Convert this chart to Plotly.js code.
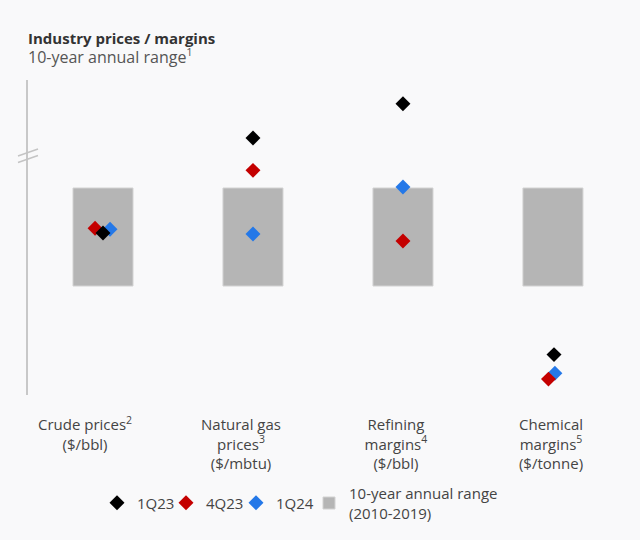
<!DOCTYPE html>
<html>
<head>
<meta charset="utf-8">
<script src="https://cdn.plot.ly/plotly-3.0.1.min.js"></script>
<style>
  html, body { margin: 0; padding: 0; background: #f9f9fa; }
  #chart { width: 640px; height: 540px; }
</style>
</head>
<body>
<div id="chart"></div>
<script>
// Categories (tick labels)
const categories = [
  "Crude prices<sup>2</sup><br>($/bbl)",
  "Natural gas<br>prices<sup>3</sup><br>($/mbtu)",
  "Refining<br>margins<sup>4</sup><br>($/bbl)",
  "Chemical<br>margins<sup>5</sup><br>($/tonne)"
];
const categoryIndex = [0, 1, 2, 3];
// where the category labels sit along the x axis (slightly left of each bar in the original)
const labelPositions = [-0.12, 0.92, 1.953, 2.987];

// Position relative to the 10-year annual range (0 = low end, 1 = high end)
const rangeLow  = [0, 0, 0, 0];
const rangeHigh = [1, 1, 1, 1];

const q1_23 = [0.54, 1.51, 1.86, -0.70];
const q4_23 = [0.59, 1.18, 0.46, -0.95];
const q1_24 = [0.58, 0.53, 1.01, -0.89];

// small horizontal offsets used in the original to avoid full overlap
const off1Q23 = [0.00, 0.00, 0.00, 0.007];
const off4Q23 = [-0.053, 0.00, 0.00, -0.03];
const off1Q24 = [0.047, 0.00, 0.00, 0.013];

const xs = (off) => categoryIndex.map((c, i) => c + off[i]);

const font = "Open Sans, Noto Sans, sans-serif";

const traces = [
  {
    type: "bar",
    name: "10-year annual range<br>(2010-2019)",
    x: categoryIndex,
    y: rangeHigh.map((h, i) => h - rangeLow[i]),
    base: rangeLow,
    width: 0.40,
    marker: { color: "#b5b5b5", line: { color: "#d2d2d2", width: 1 } },
    legend: "legend4",
    hoverinfo: "skip"
  },
  {
    type: "scatter", mode: "markers", name: "1Q24",
    x: xs(off1Q24), y: q1_24,
    marker: { symbol: "diamond", size: 11.5, color: "#2478e8" },
    legend: "legend3"
  },
  {
    type: "scatter", mode: "markers", name: "4Q23",
    x: xs(off4Q23), y: q4_23,
    marker: { symbol: "diamond", size: 11.5, color: "#c40000" },
    legend: "legend2"
  },
  {
    type: "scatter", mode: "markers", name: "1Q23",
    x: xs(off1Q23), y: q1_23,
    marker: { symbol: "diamond", size: 11.5, color: "#000000" },
    legend: "legend"
  }
];

const breakMark = (yc) => ({
  type: "line", xref: "paper", yref: "y",
  xsizemode: "pixel", xanchor: 0, ysizemode: "pixel", yanchor: yc,
  x0: -10, x1: 10, y0: -3.5, y1: 3.5,
  line: { color: "#c4c4c4", width: 1.5 }
});

const legendFont = { size: 15, color: "#444", family: font };
const legendAt = (px) => ({
  orientation: "h",
  xref: "container", yref: "container",
  x: px / 640, xanchor: "left",
  y: (540 - 503) / 540, yanchor: "middle",
  font: legendFont,
  bgcolor: "rgba(0,0,0,0)"
});

const layout = {
  width: 640, height: 540,
  paper_bgcolor: "#f9f9fa",
  plot_bgcolor: "rgba(0,0,0,0)",
  margin: { l: 28, r: 20, t: 80, b: 145 },
  font: { family: font, color: "#444", size: 15 },
  showlegend: true,
  legend: legendAt(97),
  legend2: legendAt(166),
  legend3: legendAt(236),
  legend4: legendAt(309),
  xaxis: {
    range: [-0.5, 3.447],
    tickmode: "array",
    tickvals: labelPositions,
    ticktext: categories,
    ticks: "outside", ticklen: 16, tickcolor: "rgba(0,0,0,0)",
    showline: false, showgrid: false, zeroline: false,
    tickfont: { size: 15, color: "#444", family: font },
    automargin: false,
    fixedrange: true
  },
  yaxis: {
    range: [-1.112, 2.102],
    showline: true, linecolor: "#c8c8c8", linewidth: 2,
    showticklabels: false, ticks: "", showgrid: false, zeroline: false,
    automargin: false,
    fixedrange: true
  },
  shapes: [breakMark(1.362), breakMark(1.296)],
  annotations: [
    {
      xref: "paper", yref: "paper", x: 0, y: 1.133, xshift: -2,
      xanchor: "left", yanchor: "middle", showarrow: false,
      text: "<b>Industry prices / margins</b>",
      font: { size: 15, color: "#333", family: font }
    },
    {
      xref: "paper", yref: "paper", x: 0, y: 1.076, xshift: -2,
      xanchor: "left", yanchor: "middle", showarrow: false,
      text: "10-year annual range<sup>1</sup>",
      font: { size: 16, color: "#555", family: font }
    }
  ]
};

Plotly.newPlot("chart", traces, layout, { displayModeBar: false, staticPlot: true });
</script>
</body>
</html>
